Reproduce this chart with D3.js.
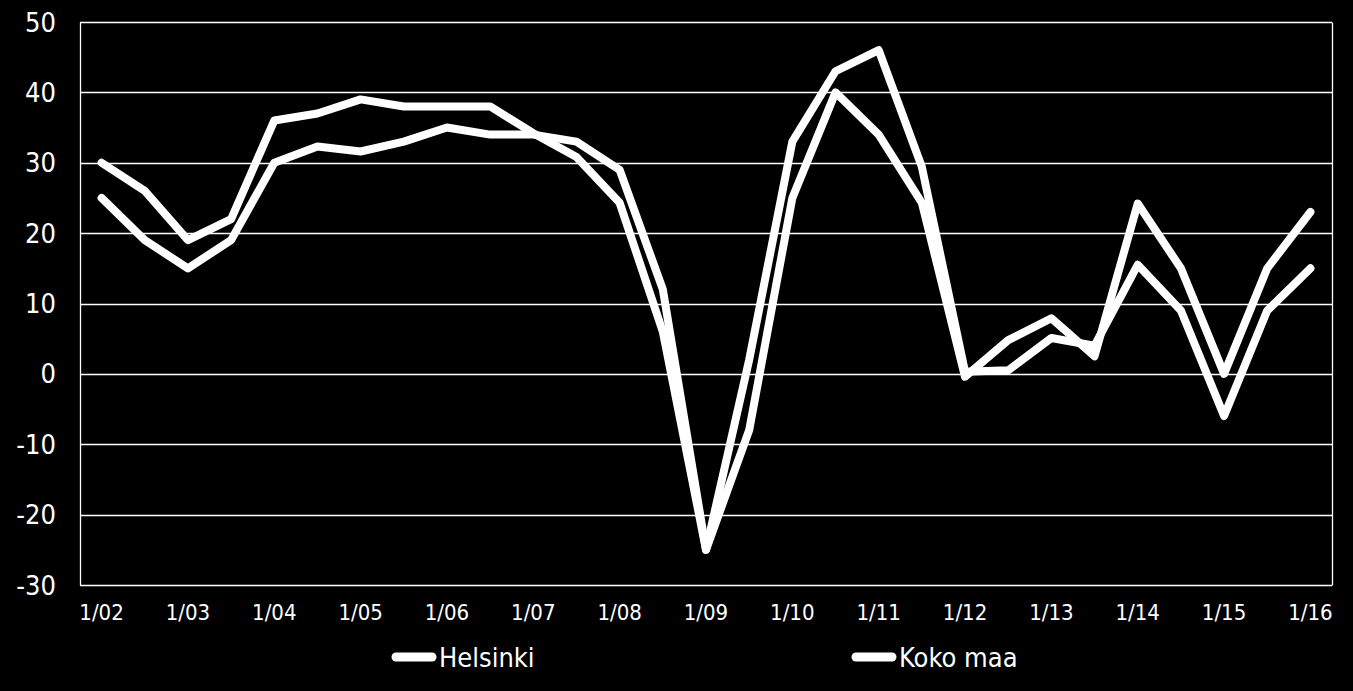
<!DOCTYPE html>
<html>
<head>
<meta charset="utf-8">
<script src="https://cdn.jsdelivr.net/npm/d3@7"></script>
<style>
  html, body { margin: 0; padding: 0; background: #000; }
  svg { display: block; }
  text { font-family: "DejaVu Sans Condensed", "DejaVu Sans", sans-serif; fill: #fff; }
</style>
</head>
<body>
<svg id="chart" width="1353" height="691"></svg>
<script>
const categories = ["1/02","7/02","1/03","7/03","1/04","7/04","1/05","7/05","1/06","7/06","1/07","7/07",
  "1/08","7/08","1/09","7/09","1/10","7/10","1/11","7/11","1/12","7/12","1/13","7/13","1/14","7/14","1/15","7/15","1/16"];
const xTickLabels = ["1/02","1/03","1/04","1/05","1/06","1/07","1/08","1/09","1/10","1/11","1/12","1/13","1/14","1/15","1/16"];
const yTicks = [-30, -20, -10, 0, 10, 20, 30, 40, 50];
const seriesNames = ["Helsinki", "Koko maa"];
const helsinki = [30, 26, 19, 22, 36, 37, 39, 38, 38, 38, 34.2, 30.8, 24.3, 6, -25, 2, 33, 43, 46, 29.4, 0.3, 0.5, 5.1, 4, 15.5, 9, -6, 9, 15];
const kokoMaa  = [25, 19, 15, 19, 30, 32.3, 31.6, 33, 35, 34, 34, 33, 29, 12, -25, -8, 25, 40, 34, 24.3, -0.4, 4.8, 7.9, 2.5, 24.2, 15, 0, 15, 23];

const svg = d3.select("#chart");
const plotLeft = 80, plotRight = 1332, plotTop = 22, plotBottom = 585;

const x = d3.scaleBand().domain(categories).range([plotLeft, plotRight]).padding(0);
const cx = c => x(c) + x.bandwidth() / 2;
const y = d3.scaleLinear().domain([-30, 50]).range([plotBottom, plotTop]);

// gridlines
svg.append("g").selectAll("line").data(yTicks).join("line")
  .attr("x1", plotLeft).attr("x2", plotRight)
  .attr("y1", d => Math.round(y(d)) + 0.5).attr("y2", d => Math.round(y(d)) + 0.5)
  .attr("stroke", "#fff").attr("stroke-width", 1.3);
// plot border verticals
[plotLeft, plotRight].forEach(px => {
  svg.append("line").attr("x1", px + 0.5).attr("x2", px + 0.5)
    .attr("y1", Math.round(y(50)) + 0.5).attr("y2", Math.round(y(-30)) + 0.5)
    .attr("stroke", "#fff").attr("stroke-width", 1.3);
});

// y labels
svg.append("g").selectAll("text").data(yTicks).join("text")
  .attr("x", 56).attr("y", d => y(d))
  .attr("text-anchor", "end").attr("dominant-baseline", "central")
  .attr("font-size", 27)
  .text(d => d);

// x labels
svg.append("g").selectAll("text").data(xTickLabels).join("text")
  .attr("x", d => cx(d)).attr("y", 620)
  .attr("text-anchor", "middle")
  .attr("font-size", 22)
  .text(d => d);

// lines
const line = d3.line().x((d, i) => cx(categories[i])).y(d => y(d));
[helsinki, kokoMaa].forEach(s => {
  svg.append("path").datum(s).attr("d", line)
    .attr("fill", "none").attr("stroke", "#fff").attr("stroke-width", 8)
    .attr("stroke-linejoin", "round").attr("stroke-linecap", "round");
});

// legend
const legendPos = [{lx: 392, tx: 439}, {lx: 852, tx: 899}];
seriesNames.forEach((n, i) => {
  const p = legendPos[i];
  svg.append("line").attr("x1", p.lx + 4).attr("x2", p.lx + 40)
    .attr("y1", 657).attr("y2", 657)
    .attr("stroke", "#fff").attr("stroke-width", 9).attr("stroke-linecap", "round");
  svg.append("text").attr("x", p.tx).attr("y", 667).attr("font-size", 27).text(n);
});
</script>
</body>
</html>
